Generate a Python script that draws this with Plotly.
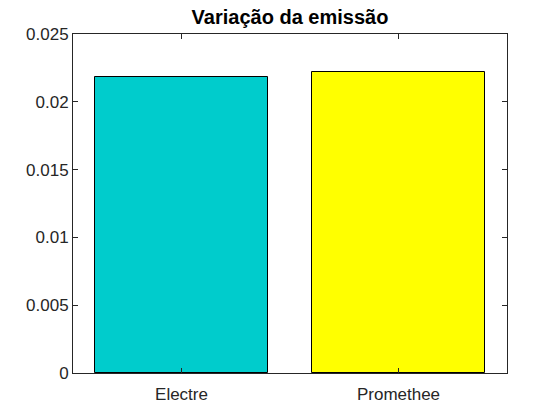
import plotly.graph_objects as go

categories = ["Electre", "Promethee"]
positions = [1, 2]
values = [0.02185, 0.02218]
colors = ["#00CCCC", "#FFFF00"]
yticks = [0, 0.005, 0.01, 0.015, 0.02, 0.025]
ytick_labels = ["0", "0.005", "0.01", "0.015", "0.02", "0.025"]

fig = go.Figure()
fig.add_trace(go.Bar(
    x=positions, y=values, width=0.8,
    marker=dict(color=colors, line=dict(color="black", width=1)),
    showlegend=False,
))

axis_color = "#262626"
tick_font = dict(family="Liberation Sans, Arial, sans-serif", size=17, color=axis_color)
fig.update_layout(
    width=560, height=420,
    margin=dict(l=73, r=53, t=34, b=47),
    paper_bgcolor="white", plot_bgcolor="white",
    font=tick_font,
    title=dict(text="<b>Variação da emissão</b>", x=0.5, xanchor="center",
               xref="paper", y=1 - 17 / 420, yref="container", yanchor="middle",
               font=dict(family="Liberation Sans, Arial, sans-serif", size=20, color="black")),
    bargap=0,
)
fig.update_xaxes(
    range=[0.5, 2.5], tickvals=positions, ticktext=categories, tickfont=tick_font,
    showline=True, linecolor=axis_color, linewidth=1, mirror="ticks",
    ticks="inside", ticklen=5, tickcolor=axis_color, showgrid=False, zeroline=False,
    ticklabelstandoff=6,
)
fig.update_yaxes(
    range=[0, 0.025], tickvals=yticks, ticktext=ytick_labels, tickfont=tick_font,
    showline=True, linecolor=axis_color, linewidth=1, mirror="ticks",
    ticks="inside", ticklen=5, tickcolor=axis_color, showgrid=False, zeroline=False,
)

fig.write_html("out.html")
